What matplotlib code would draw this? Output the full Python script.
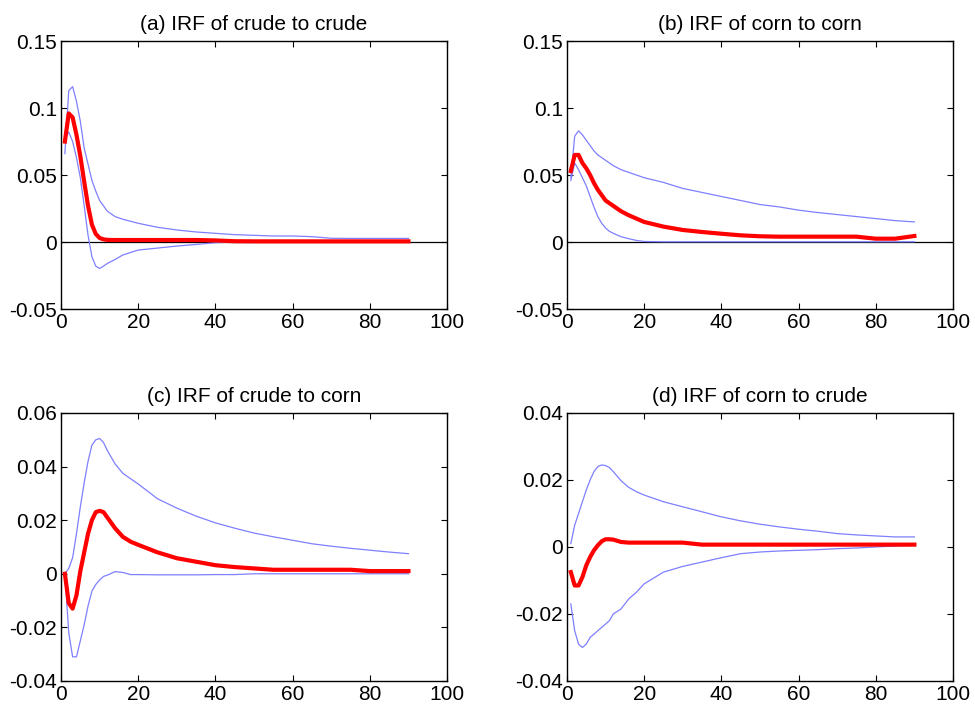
import matplotlib
matplotlib.use("Agg")
import matplotlib.pyplot as plt

plt.rcParams['font.family'] = ['Liberation Sans', 'DejaVu Sans']
plt.rcParams['axes.unicode_minus'] = False

# horizon (periods)
xs = [1, 2, 3, 4, 5, 6, 7, 8, 9, 10, 11, 12, 14, 16, 18, 20,
      25, 30, 35, 40, 45, 50, 55, 60, 65, 70, 75, 80, 85, 90]

# (a) crude -> crude
a_irf = [0.075, 0.096, 0.093, 0.080, 0.064, 0.045, 0.027, 0.013, 0.006, 0.003,
         0.002, 0.0016, 0.0015, 0.0015, 0.0015, 0.0015, 0.0015, 0.0015, 0.0015, 0.0012,
         0.0006, 0.0005, 0.0005, 0.0005, 0.0005, 0.0005, 0.0005, 0.0005, 0.0005, 0.0005]
a_hi = [0.066, 0.113, 0.116, 0.105, 0.090, 0.070, 0.058, 0.046, 0.038, 0.031,
        0.027, 0.023, 0.019, 0.017, 0.0155, 0.014, 0.011, 0.009, 0.0075, 0.0065,
        0.0055, 0.005, 0.0045, 0.0045, 0.004, 0.0028, 0.0027, 0.0027, 0.0027, 0.0027]
a_lo = [0.078, 0.082, 0.075, 0.063, 0.048, 0.027, 0.005, -0.011, -0.018, -0.0197,
        -0.018, -0.016, -0.013, -0.0097, -0.0078, -0.006, -0.0045, -0.003, -0.0018, -0.0005,
        0.0, 0.0, 0.0, 0.0, 0.0, 0.0, 0.0, 0.0, 0.0, 0.0]

# (b) corn -> corn
b_irf = [0.053, 0.065, 0.065, 0.059, 0.055, 0.050, 0.044, 0.039, 0.035, 0.031,
         0.029, 0.027, 0.023, 0.020, 0.0175, 0.015, 0.0115, 0.009, 0.0075, 0.0062,
         0.005, 0.0043, 0.004, 0.004, 0.004, 0.004, 0.004, 0.0025, 0.0025, 0.0045]
b_hi = [0.048, 0.079, 0.083, 0.080, 0.076, 0.072, 0.068, 0.065, 0.063, 0.061,
        0.059, 0.057, 0.054, 0.052, 0.050, 0.048, 0.0445, 0.040, 0.037, 0.034,
        0.031, 0.028, 0.0262, 0.0238, 0.022, 0.0205, 0.019, 0.0175, 0.016, 0.015]
b_lo = [0.046, 0.059, 0.054, 0.048, 0.042, 0.034, 0.026, 0.019, 0.014, 0.0105,
        0.008, 0.0065, 0.004, 0.0025, 0.0012, 0.0004, 0.0002, 0.0002, 0.0002, 0.0002,
        0.0002, 0.0002, 0.0002, 0.0002, 0.0002, 0.0002, 0.0002, 0.0002, 0.0002, 0.0002]

# (c) crude -> corn
c_irf = [0.0, -0.011, -0.013, -0.008, 0.001, 0.008, 0.015, 0.020, 0.023, 0.0235,
         0.023, 0.021, 0.017, 0.0138, 0.012, 0.0108, 0.008, 0.0058, 0.0045, 0.0032,
         0.0025, 0.002, 0.0015, 0.0015, 0.0015, 0.0015, 0.0015, 0.001, 0.001, 0.001]
c_hi = [0.0, 0.002, 0.006, 0.015, 0.025, 0.034, 0.042, 0.048, 0.050, 0.0505,
        0.049, 0.046, 0.041, 0.0375, 0.0355, 0.0335, 0.028, 0.0245, 0.0215, 0.019,
        0.017, 0.0152, 0.0138, 0.0125, 0.0112, 0.0103, 0.0095, 0.0088, 0.0081, 0.0075]
c_lo = [0.0, -0.022, -0.031, -0.031, -0.025, -0.019, -0.012, -0.0065, -0.004, -0.0023,
        -0.001, -0.0005, 0.0008, 0.0005, -0.0003, -0.0003, -0.0004, -0.0004, -0.0004, -0.0003,
        -0.0003, 0.0, 0.0, 0.0, 0.0, 0.0, 0.0, 0.0, 0.0, 0.0]

# (d) corn -> crude
d_irf = [-0.0075, -0.0115, -0.0115, -0.009, -0.0055, -0.003, -0.001, 0.0005, 0.0017, 0.0023,
         0.0023, 0.0022, 0.0015, 0.0013, 0.0013, 0.0013, 0.0013, 0.0013, 0.0007, 0.0007,
         0.0007, 0.0007, 0.0007, 0.0007, 0.0007, 0.0007, 0.0007, 0.0007, 0.0007, 0.0007]
d_hi = [0.001, 0.0065, 0.010, 0.0135, 0.017, 0.020, 0.0225, 0.024, 0.0245, 0.0243,
        0.0237, 0.0225, 0.0198, 0.0178, 0.0165, 0.0155, 0.0135, 0.012, 0.0105, 0.009,
        0.0078, 0.0068, 0.006, 0.0053, 0.0047, 0.004, 0.0036, 0.0033, 0.003, 0.003]
d_lo = [-0.017, -0.025, -0.029, -0.030, -0.029, -0.027, -0.026, -0.025, -0.024, -0.023,
        -0.022, -0.020, -0.0185, -0.0155, -0.0135, -0.011, -0.0075, -0.0058, -0.0045, -0.0032,
        -0.002, -0.0015, -0.0012, -0.001, -0.0008, -0.0005, -0.0003, 0.0, 0.0003, 0.0005]

titles = ["(a) IRF of crude to crude", "(b) IRF of corn to corn",
          "(c) IRF of crude to corn", "(d) IRF of corn to crude"]
ylims = [(-0.05, 0.15), (-0.05, 0.15), (-0.04, 0.06), (-0.04, 0.04)]
yticks = [[-0.05, 0, 0.05, 0.1, 0.15], [-0.05, 0, 0.05, 0.1, 0.15],
          [-0.04, -0.02, 0, 0.02, 0.04, 0.06], [-0.04, -0.02, 0, 0.02, 0.04]]
ytick_labels = [["-0.05", "0", "0.05", "0.1", "0.15"], ["-0.05", "0", "0.05", "0.1", "0.15"],
                ["-0.04", "-0.02", "0", "0.02", "0.04", "0.06"], ["-0.04", "-0.02", "0", "0.02", "0.04"]]
xticks = [0, 20, 40, 60, 80, 100]
zero_line = [True, True, False, False]

irfs = [a_irf, b_irf, c_irf, d_irf]
his = [a_hi, b_hi, c_hi, d_hi]
los = [a_lo, b_lo, c_lo, d_lo]

fig = plt.figure(figsize=(9.75, 7.19), dpi=100)
# axes boxes in figure fractions (left, bottom, width, height)
boxes = [(0.0626, 0.5702, 0.3959, 0.3727), (0.5815, 0.5702, 0.3959, 0.3727),
         (0.0626, 0.0529, 0.3959, 0.3727), (0.5815, 0.0529, 0.3959, 0.3727)]

for i in range(4):
    ax = fig.add_axes(boxes[i])
    if zero_line[i]:
        ax.plot([0, 100], [0, 0], color='black', lw=0.9, zorder=1)
    ax.plot(xs, his[i], color='#7f7fff', lw=0.9, zorder=2)
    ax.plot(xs, los[i], color='#7f7fff', lw=0.9, zorder=2)
    ax.plot(xs, irfs[i], color='red', lw=3.0, zorder=3)
    ax.set_xlim(0, 100)
    ax.set_ylim(*ylims[i])
    ax.set_xticks(xticks)
    ax.set_xticklabels([str(t) for t in xticks])
    ax.set_yticks(yticks[i])
    ax.set_yticklabels(ytick_labels[i])
    ax.tick_params(direction='in', top=True, right=True, length=4, width=0.8,
                   labelsize=15, pad=3)
    for s in ax.spines.values():
        s.set_linewidth(1.0)
    ax.set_title(titles[i], fontsize=15, pad=8)

fig.savefig("out.png", dpi=100)
